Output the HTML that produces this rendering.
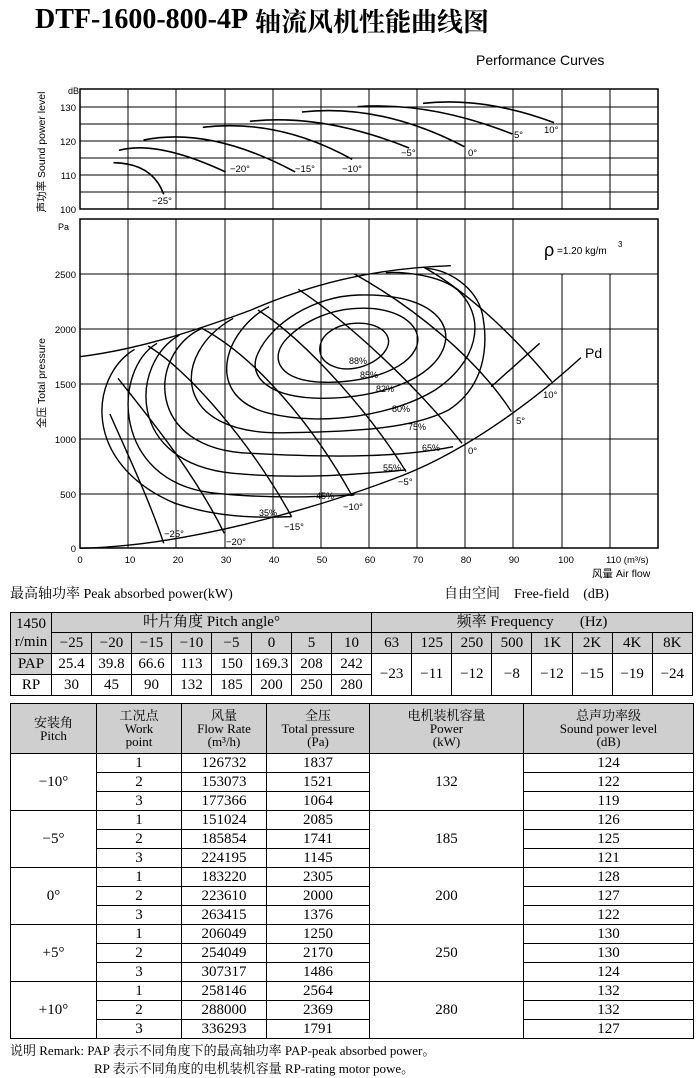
<!DOCTYPE html>
<html><head><meta charset="utf-8"><style>
body{margin:0;background:#fff;width:700px;height:1078px;position:relative;overflow:hidden;font-family:"Liberation Serif","Noto Serif CJK SC",serif;color:#000}
.a{position:absolute;white-space:nowrap}
table{position:absolute;border-collapse:collapse;table-layout:fixed;font-family:"Liberation Serif","Noto Serif CJK SC",serif;font-size:15px;text-align:center}
td{border:1px solid #000;padding:0;line-height:1}
.g td,td.g{background:#cfcfcf}
#t2 td{font-size:15px}
#t2 .h td{font-size:13px;line-height:13px}
</style></head><body>
<div class="a" style="left:35px;top:4px;font-weight:bold;font-size:28px;">DTF-1600-800-4P</div>
<div class="a" style="left:255px;top:2px;font-weight:bold;font-size:26px;font-family:'Noto Serif CJK SC',serif">轴流风机性能曲线图</div>
<div class="a" style="left:476px;top:52px;font-family:'Liberation Sans',sans-serif;font-size:14px">Performance Curves</div>

<svg class="a" style="left:0;top:0" width="700" height="580" viewBox="0 0 700 580" font-family="Liberation Sans, sans-serif">
<g stroke="#000" stroke-width="1" fill="none">
<rect x="80" y="89" width="578" height="120" stroke-width="1.5"/>
<path d="M128,89V209M176,89V209M225,89V209M273,89V209M321,89V209M369,89V209M417,89V209M465,89V209M513,89V209M562,89V209M610,89V209"/>
<path d="M80,107H658M80,124H658M80,141H658M80,158H658M80,175H658M80,192H658"/>
<rect x="80" y="219" width="578" height="329" stroke-width="1.5"/>
<path d="M128,219V548M176,219V548M225,219V548M273,219V548M321,219V548M369,219V548M417,219V548M465,219V548M513,219V548M562,274V548M610,274V548"/>
<path d="M80,274H658M80,329H658M80,384H658M80,439H658M80,494H658"/>
</g>
<g transform="scale(0.4486,0.3333)" fill="none" stroke="#000" stroke-width="1.6">
<path vector-effect="non-scaling-stroke" d="M253,488 Q340,490 365,583"/>
<path vector-effect="non-scaling-stroke" d="M265,451 Q350,420 503,516"/>
<path vector-effect="non-scaling-stroke" d="M320,420 Q470,380 658,516"/>
<path vector-effect="non-scaling-stroke" d="M452,382 Q620,355 785,478"/>
<path vector-effect="non-scaling-stroke" d="M557,364 Q720,340 912,444"/>
<path vector-effect="non-scaling-stroke" d="M673,336 Q850,310 1035,440"/>
<path vector-effect="non-scaling-stroke" d="M797,320 Q960,305 1142,402"/>
<path vector-effect="non-scaling-stroke" d="M943,310 Q1080,290 1235,368"/>
</g>
<g transform="translate(0,210) scale(0.4486,0.3333)" fill="none" stroke="#000" stroke-width="1.4">
<path vector-effect="non-scaling-stroke" d="M178,440 C300,420 420,370 560,300 C680,230 820,175 1005,167"/>
<path vector-effect="non-scaling-stroke" d="M178,1015 C400,1010 700,900 900,795 C1050,715 1200,560 1295,443"/>
<path vector-effect="non-scaling-stroke" d="M245,612 C280,720 330,860 365,1000"/>
<path vector-effect="non-scaling-stroke" d="M263,505 C330,620 430,780 500,970"/>
<path vector-effect="non-scaling-stroke" d="M330,408 C420,480 560,700 650,920"/>
<path vector-effect="non-scaling-stroke" d="M450,355 C570,440 700,650 785,858"/>
<path vector-effect="non-scaling-stroke" d="M575,300 C690,400 830,620 905,785"/>
<path vector-effect="non-scaling-stroke" d="M665,238 C780,340 930,530 1030,700"/>
<path vector-effect="non-scaling-stroke" d="M790,192 C920,290 1060,440 1140,605"/>
<path vector-effect="non-scaling-stroke" d="M945,172 C1050,250 1160,400 1230,515"/>
<path vector-effect="non-scaling-stroke" d="M1203,400 L1095,530"/>
<path vector-effect="non-scaling-stroke" d="M790,340 C850,335 880,380 860,420 C840,465 780,490 745,470 C705,450 705,400 730,370 C750,348 770,342 790,340 Z"/>
<path vector-effect="non-scaling-stroke" d="M800,295 C900,290 950,360 925,420 C895,495 780,525 700,515 C620,505 600,440 640,385 C680,330 740,297 800,295 Z"/>
<path vector-effect="non-scaling-stroke" d="M800,255 C950,250 1010,330 990,410 C965,510 840,565 720,565 C600,565 550,500 575,430 C605,340 700,258 800,255 Z"/>
<path vector-effect="non-scaling-stroke" d="M600,290 C500,360 450,560 600,610 C720,650 880,615 970,540 C1060,460 1090,330 1020,240 C980,195 900,185 860,188"/>
<path vector-effect="non-scaling-stroke" d="M520,325 C380,430 380,680 640,668 C800,665 920,655 1000,600 C1080,530 1090,410 1075,310 C1060,230 1000,180 950,175"/>
<path vector-effect="non-scaling-stroke" d="M450,355 C330,430 320,720 560,730 C760,745 900,740 1010,710"/>
<path vector-effect="non-scaling-stroke" d="M400,375 C290,460 280,760 520,790 C680,810 820,790 905,780"/>
<path vector-effect="non-scaling-stroke" d="M350,400 C250,480 250,810 470,848 C600,868 720,860 790,855"/>
<path vector-effect="non-scaling-stroke" d="M300,418 C200,500 180,760 390,880 C480,920 560,925 650,920"/>
</g>
<g font-size="9.5" fill="#000">
<text x="68" y="94" font-size="9">dB</text>
<g text-anchor="end"><text x="76" y="111">130</text><text x="76" y="145">120</text><text x="76" y="179">110</text><text x="76" y="213">100</text>
<text x="76" y="278">2500</text><text x="76" y="333">2000</text><text x="76" y="388">1500</text><text x="76" y="443">1000</text><text x="76" y="498">500</text><text x="76" y="552">0</text></g>
<text x="58" y="230" font-size="9">Pa</text>
<text transform="translate(45,152) rotate(-90)" text-anchor="middle" font-size="10.5">声功率 Sound power level</text>
<text transform="translate(45,383) rotate(-90)" text-anchor="middle" font-size="10.5">全压 Total pressure</text>
<g text-anchor="middle"><text x="80" y="563">0</text><text x="130" y="563">10</text><text x="178" y="563">20</text><text x="226" y="563">30</text><text x="274" y="563">40</text><text x="322" y="563">50</text><text x="370" y="563">60</text><text x="418" y="563">70</text><text x="466" y="563">80</text><text x="514" y="563">90</text><text x="566" y="563">100</text></g>
<text x="606" y="563">110 (m³/s)</text>
<text x="592" y="577" font-size="10.5">风量 Air flow</text>
<text x="152" y="204">−25°</text><text x="230" y="172">−20°</text><text x="295" y="172">−15°</text><text x="342" y="172">−10°</text><text x="401" y="156">−5°</text><text x="468" y="156">0°</text><text x="514" y="138">5°</text><text x="544" y="133">10°</text>
<text x="164" y="537">−25°</text><text x="226" y="545">−20°</text><text x="284" y="530">−15°</text><text x="343" y="510">−10°</text><text x="398" y="485">−5°</text><text x="468" y="454">0°</text><text x="516" y="424">5°</text><text x="543" y="398">10°</text>
<g font-size="9"><text x="349" y="364">88%</text><text x="360" y="378">85%</text><text x="376" y="392">82%</text><text x="392" y="412">80%</text><text x="408" y="430">75%</text><text x="422" y="451">65%</text><text x="383" y="471">55%</text><text x="316" y="499">45%</text><text x="259" y="516">35%</text></g>
<text x="585" y="358" font-size="14">Pd</text>
<text x="544" y="256" font-size="18">ρ</text><text x="557" y="254" font-size="10">=1.20 kg/m</text><text x="618" y="247" font-size="8">3</text>
</g>
</svg>

<div class="a" style="left:10px;top:583px;font-size:14px">最高轴功率 Peak absorbed power(kW)</div>
<div class="a" style="left:444px;top:583px;font-size:14px">自由空间 &nbsp;&nbsp; Free-field &nbsp;&nbsp; (dB)</div>

<table style="left:10px;top:612px;width:682px;border:1.5px solid #000">
<colgroup><col style="width:41px"><col span="8" style="width:40px"><col span="8" style="width:40.1px"></colgroup>
<tr class="g" style="height:20px"><td rowspan="2" style="line-height:18px">1450<br>r/min</td><td colspan="8">叶片角度 Pitch angle°</td><td colspan="8">频率 Frequency &nbsp;&nbsp;&nbsp;&nbsp;&nbsp;&nbsp;(Hz)</td></tr>
<tr class="g" style="height:21px"><td>−25</td><td>−20</td><td>−15</td><td>−10</td><td>−5</td><td>0</td><td>5</td><td>10</td><td>63</td><td>125</td><td>250</td><td>500</td><td>1K</td><td>2K</td><td>4K</td><td>8K</td></tr>
<tr style="height:21px"><td class="g">PAP</td><td>25.4</td><td>39.8</td><td>66.6</td><td>113</td><td>150</td><td>169.3</td><td>208</td><td>242</td><td rowspan="2">−23</td><td rowspan="2">−11</td><td rowspan="2">−12</td><td rowspan="2">−8</td><td rowspan="2">−12</td><td rowspan="2">−15</td><td rowspan="2">−19</td><td rowspan="2">−24</td></tr>
<tr style="height:21px"><td>RP</td><td>30</td><td>45</td><td>90</td><td>132</td><td>185</td><td>200</td><td>250</td><td>280</td></tr>
</table>

<table id="t2" style="left:10px;top:703px;width:683px;border:1.5px solid #000">
<colgroup><col style="width:86px"><col style="width:85px"><col style="width:85px"><col style="width:103px"><col style="width:154px"><col style="width:170px"></colgroup>
<tr class="g h" style="height:50px"><td>安装角<br>Pitch</td><td>工况点<br>Work<br>point</td><td>风量<br>Flow Rate<br>(m³/h)</td><td>全压<br>Total pressure<br>(Pa)</td><td>电机装机容量<br>Power<br>(kW)</td><td>总声功率级<br>Sound power level<br>(dB)</td></tr>
<tr style="height:19px"><td rowspan="3">−10°</td><td>1</td><td>126732</td><td>1837</td><td rowspan="3">132</td><td>124</td></tr>
<tr style="height:19px"><td>2</td><td>153073</td><td>1521</td><td>122</td></tr>
<tr style="height:19px"><td>3</td><td>177366</td><td>1064</td><td>119</td></tr>
<tr style="height:19px"><td rowspan="3">−5°</td><td>1</td><td>151024</td><td>2085</td><td rowspan="3">185</td><td>126</td></tr>
<tr style="height:19px"><td>2</td><td>185854</td><td>1741</td><td>125</td></tr>
<tr style="height:19px"><td>3</td><td>224195</td><td>1145</td><td>121</td></tr>
<tr style="height:19px"><td rowspan="3">0°</td><td>1</td><td>183220</td><td>2305</td><td rowspan="3">200</td><td>128</td></tr>
<tr style="height:19px"><td>2</td><td>223610</td><td>2000</td><td>127</td></tr>
<tr style="height:19px"><td>3</td><td>263415</td><td>1376</td><td>122</td></tr>
<tr style="height:19px"><td rowspan="3">+5°</td><td>1</td><td>206049</td><td>1250</td><td rowspan="3">250</td><td>130</td></tr>
<tr style="height:19px"><td>2</td><td>254049</td><td>2170</td><td>130</td></tr>
<tr style="height:19px"><td>3</td><td>307317</td><td>1486</td><td>124</td></tr>
<tr style="height:19px"><td rowspan="3">+10°</td><td>1</td><td>258146</td><td>2564</td><td rowspan="3">280</td><td>132</td></tr>
<tr style="height:19px"><td>2</td><td>288000</td><td>2369</td><td>132</td></tr>
<tr style="height:19px"><td>3</td><td>336293</td><td>1791</td><td>127</td></tr>
</table>

<div class="a" style="left:10px;top:1040px;font-size:13px">说明 Remark: PAP 表示不同角度下的最高轴功率 PAP-peak absorbed power。</div>
<div class="a" style="left:94px;top:1058px;font-size:13px">RP 表示不同角度的电机装机容量 RP-rating motor powe。</div>
</body></html>
